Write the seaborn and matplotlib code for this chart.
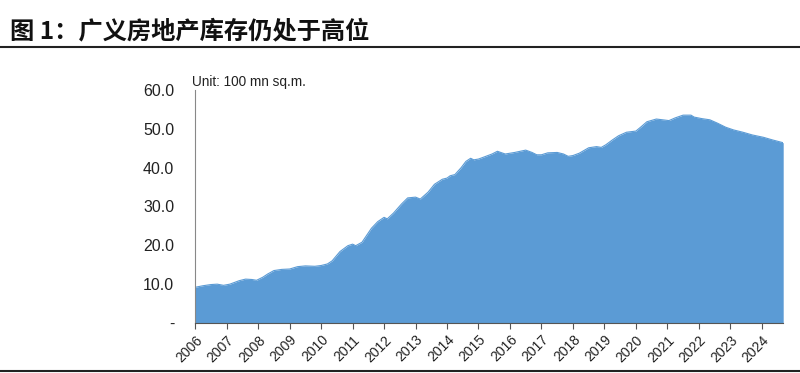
import matplotlib
matplotlib.use('Agg')
import matplotlib.pyplot as plt
import pandas as pd
import seaborn as sns

# broad housing inventory, unit: 100 mn sq.m.
dates = [2006.00, 2006.25, 2006.50, 2006.70, 2006.90, 2007.10, 2007.40, 2007.60,
         2007.80, 2007.95, 2008.15, 2008.30, 2008.50, 2008.75, 2009.00, 2009.25,
         2009.50, 2009.80, 2010.00, 2010.20, 2010.35, 2010.60, 2010.85, 2011.00,
         2011.10, 2011.30, 2011.60, 2011.80, 2012.00, 2012.10, 2012.30, 2012.55,
         2012.75, 2013.00, 2013.15, 2013.40, 2013.60, 2013.85, 2014.00, 2014.10,
         2014.25, 2014.45, 2014.60, 2014.75, 2014.85, 2015.00, 2015.20, 2015.43,
         2015.60, 2015.85, 2016.00, 2016.15, 2016.50, 2016.70, 2016.85, 2017.00,
         2017.20, 2017.50, 2017.70, 2017.85, 2018.00, 2018.20, 2018.50, 2018.75,
         2018.90, 2019.05, 2019.25, 2019.45, 2019.70, 2020.00, 2020.15, 2020.35,
         2020.65, 2020.85, 2021.05, 2021.25, 2021.50, 2021.75, 2021.85, 2022.10,
         2022.35, 2022.60, 2022.85, 2023.10, 2023.40, 2023.70, 2024.05, 2024.35,
         2024.68]
inventory = [9.2, 9.6, 9.9, 10.0, 9.7, 10.0, 10.9, 11.3,
             11.2, 11.0, 11.8, 12.6, 13.5, 13.8, 13.9, 14.5,
             14.7, 14.6, 14.8, 15.2, 16.0, 18.4, 19.9, 20.3,
             19.9, 20.8, 24.4, 26.1, 27.2, 26.8, 28.3, 30.6,
             32.2, 32.4, 31.9, 33.7, 35.7, 37.0, 37.3, 37.9,
             38.2, 40.0, 41.6, 42.4, 42.0, 42.2, 42.8, 43.5,
             44.2, 43.5, 43.7, 43.9, 44.5, 43.9, 43.3, 43.3,
             43.8, 43.9, 43.5, 42.9, 43.1, 43.7, 45.1, 45.4,
             45.2, 45.9, 47.1, 48.2, 49.1, 49.4, 50.4, 51.8,
             52.5, 52.3, 52.1, 52.8, 53.5, 53.5, 53.0, 52.6,
             52.3, 51.4, 50.4, 49.7, 49.1, 48.4, 47.8, 47.1,
             46.4]
years = list(range(2006, 2025))
y_ticks = [0, 10, 20, 30, 40, 50, 60]
y_labels = ['-', '10.0', '20.0', '30.0', '40.0', '50.0', '60.0']

title = '图 1：广义房地产库存仍处于高位'
unit = 'Unit: 100 mn sq.m.'

sns.set_theme(style='white')
plt.rcParams['font.family'] = ['Liberation Sans', 'DejaVu Sans']

df = pd.DataFrame({'date': dates, 'value': inventory})
blue = '#5B9BD5'

fig = plt.figure(figsize=(8, 3.73), dpi=100)
ax = fig.add_axes([0.244, 0.134, 0.735, 0.625])

sns.lineplot(data=df, x='date', y='value', color=blue, linewidth=0.8, ax=ax)
ax.fill_between(df['date'], df['value'], 0, color=blue, linewidth=0)

ax.set_xlim(dates[0], dates[-1])
ax.set_ylim(0, 60)
ax.set_xlabel('')
ax.set_ylabel('')

ax.set_yticks(y_ticks)
ax.set_yticklabels(y_labels, fontsize=11.5, color='#222222')
ax.set_xticks(years)
ax.set_xticklabels([str(y) for y in years], rotation=45, ha='right',
                   va='top', rotation_mode='anchor', fontsize=10,
                   color='#222222')
ax.tick_params(axis='x', which='major', bottom=True, length=4, width=0.8,
               color='#555555', pad=3)
ax.tick_params(axis='y', left=False, pad=9)

for side in ['top', 'right']:
    ax.spines[side].set_visible(False)
ax.spines['left'].set_color('#888888')
ax.spines['left'].set_linewidth(0.8)
ax.spines['bottom'].set_color('#555555')
ax.spines['bottom'].set_linewidth(0.8)

ax.text(-0.005, 1.005, unit, transform=ax.transAxes, fontsize=9.8,
        color='#222222', ha='left', va='bottom')

fig.text(0.012, 0.915, title, fontsize=17.5, fontweight='bold',
         family=['Noto Sans CJK SC', 'DejaVu Sans'], ha='left',
         va='center', color='#111111')
fig.add_artist(plt.Line2D([0, 1], [0.873, 0.873], color='#222222',
                          linewidth=1.5, transform=fig.transFigure))
fig.add_artist(plt.Line2D([0, 1], [0.006, 0.006], color='#222222',
                          linewidth=1.5, transform=fig.transFigure))

plt.savefig('out.png', dpi=100)
